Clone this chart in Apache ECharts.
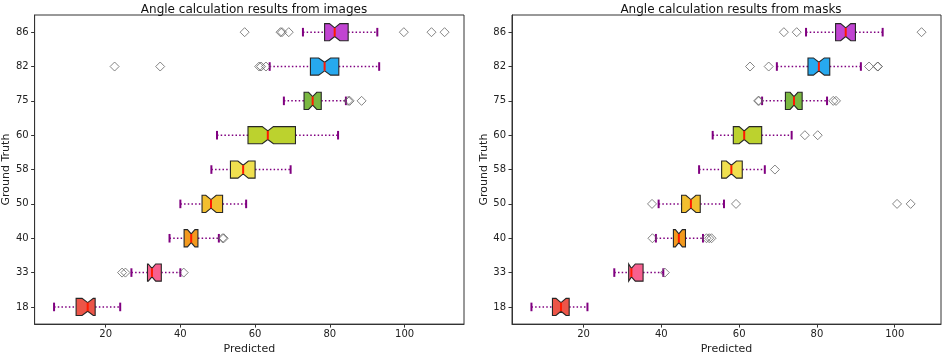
<!DOCTYPE html>
<html>
<head>
<meta charset="utf-8">
<script src="https://cdn.jsdelivr.net/npm/echarts@6/dist/echarts.min.js"></script>
<style>
  html, body { margin: 0; padding: 0; background: #fff; }
  #main { width: 945px; height: 360px; }
</style>
</head>
<body>
<div id="main"></div>
<script>
// ground truth classes, bottom to top
var categories = ['18', '33', '40', '50', '58', '60', '75', '82', '86'];
var boxColors = ['#ec5548', '#f7608f', '#f39a1e', '#f2bf2f', '#f0e04f', '#bcd22e', '#7ab840', '#27a9ef', '#c144d2'];
var xTicks = [20, 40, 60, 80, 100];

// left panel: from images
var imgLow   = [6.2, 26.9, 37.1, 40.0, 48.3, 49.8, 67.7, 63.9, 72.8];
var imgQ1    = [12.1, 31.2, 41.0, 45.8, 53.4, 58.1, 73.1, 74.8, 78.6];
var imgMed   = [15.2, 32.4, 42.9, 48.2, 56.8, 63.4, 75.4, 78.6, 81.3];
var imgQ3    = [17.2, 34.9, 44.7, 51.3, 60.0, 70.8, 77.7, 82.4, 84.9];
var imgHigh  = [23.9, 40.0, 50.3, 57.6, 69.5, 82.2, 84.3, 93.2, 92.7];
var imgNotch = [1.5, 1.0, 1.0, 1.4, 1.4, 1.5, 1.1, 1.6, 1.4];
var imgOutliers = [
  ['33', 24.4], ['33', 25.3], ['33', 40.9],
  ['40', 51.3], ['40', 51.6],
  ['75', 84.9], ['75', 85.3], ['75', 88.5],
  ['82', 22.4], ['82', 34.6], ['82', 61.1], ['82', 61.6], ['82', 62.9],
  ['86', 57.2], ['86', 66.8], ['86', 67.2], ['86', 69.0], ['86', 99.8], ['86', 107.2], ['86', 110.7]
];

// right panel: from masks
var mskLow   = [6.6, 27.9, 38.6, 39.3, 49.7, 53.2, 65.9, 69.7, 77.2];
var mskQ1    = [12.0, 31.6, 43.1, 45.2, 55.5, 58.5, 71.9, 77.7, 84.8];
var mskMed   = [14.2, 32.3, 44.5, 47.6, 58.0, 61.3, 74.1, 80.5, 87.4];
var mskQ3    = [16.3, 35.3, 46.2, 50.0, 60.8, 65.8, 76.2, 83.3, 89.9];
var mskHigh  = [21.0, 40.5, 50.7, 56.1, 66.6, 73.5, 82.6, 91.3, 96.9];
var mskNotch = [1.3, 1.0, 0.9, 1.3, 1.3, 1.3, 1.0, 1.4, 1.3];
var mskOutliers = [
  ['33', 40.9],
  ['40', 37.7], ['40', 51.6], ['40', 52.3], ['40', 52.9],
  ['50', 37.6], ['50', 59.2], ['50', 100.6], ['50', 104.1],
  ['58', 69.2],
  ['60', 76.9], ['60', 80.2],
  ['75', 64.9], ['75', 65.1], ['75', 84.2], ['75', 84.9],
  ['82', 62.8], ['82', 67.6], ['82', 93.4], ['82', 95.6], ['82', 95.7],
  ['86', 71.5], ['86', 74.8], ['86', 106.9]
];

function boxRows(low, q1, med, q3, high, notch) {
  return categories.map(function (c, i) {
    return [i, low[i], q1[i], med[i], q3[i], high[i], notch[i]];
  });
}

function renderBox(params, api) {
  var i = api.value(0);
  var low = api.value(1), q1 = api.value(2), med = api.value(3),
      q3 = api.value(4), high = api.value(5), n = api.value(6);
  var band = api.size([0, 1])[1];
  var hw = band * 0.25, nw = band * 0.125, cw = band * 0.125;
  var y = api.coord([med, i])[1];
  function px(v) { return api.coord([v, i])[0]; }
  var ciLo = Math.max(q1, med - n), ciHi = Math.min(q3, med + n);
  var purple = '#800080';
  var pts = [
    [px(q1), y - hw], [px(ciLo), y - hw], [px(med), y - nw], [px(ciHi), y - hw], [px(q3), y - hw],
    [px(q3), y + hw], [px(ciHi), y + hw], [px(med), y + nw], [px(ciLo), y + hw], [px(q1), y + hw]
  ];
  return {
    type: 'group',
    children: [
      { type: 'line', shape: { x1: px(low), y1: y, x2: px(q1), y2: y },
        style: { stroke: purple, lineWidth: 1.5, lineDash: [1.5, 2.2] } },
      { type: 'line', shape: { x1: px(q3), y1: y, x2: px(high), y2: y },
        style: { stroke: purple, lineWidth: 1.5, lineDash: [1.5, 2.2] } },
      { type: 'line', shape: { x1: px(low), y1: y - cw, x2: px(low), y2: y + cw },
        style: { stroke: purple, lineWidth: 2 } },
      { type: 'line', shape: { x1: px(high), y1: y - cw, x2: px(high), y2: y + cw },
        style: { stroke: purple, lineWidth: 2 } },
      { type: 'polygon', shape: { points: pts },
        style: { fill: boxColors[i], stroke: '#262626', lineWidth: 1.1 } },
      { type: 'line', shape: { x1: px(med), y1: y - nw, x2: px(med), y2: y + nw },
        style: { stroke: '#ff1a00', lineWidth: 2 } }
    ]
  };
}

function makeX(idx, min, max) {
  return {
    gridIndex: idx, type: 'value', min: min, max: max,
    name: 'Predicted', nameLocation: 'middle', nameGap: 17,
    nameTextStyle: { fontSize: 11, color: '#222', fontFamily: 'DejaVu Sans' },
    splitLine: { show: false },
    axisLine: { show: true, lineStyle: { color: '#333' } },
    axisTick: { show: true, length: 3.5, customValues: xTicks, lineStyle: { color: '#333' } },
    axisLabel: { customValues: xTicks, fontSize: 10, color: '#222', margin: 5, fontFamily: 'DejaVu Sans' }
  };
}

function makeY(idx) {
  return {
    gridIndex: idx, type: 'category', data: categories,
    name: 'Ground Truth', nameLocation: 'middle', nameGap: 22,
    nameTextStyle: { fontSize: 11, color: '#222', fontFamily: 'DejaVu Sans' },
    axisLine: { show: true, lineStyle: { color: '#333' } },
    axisTick: { show: true, alignWithLabel: true, length: 3.5, lineStyle: { color: '#333' } },
    axisLabel: { fontSize: 10, color: '#222', margin: 6, fontFamily: 'DejaVu Sans' }
  };
}

function outlierSeries(idx, list) {
  return {
    type: 'scatter', xAxisIndex: idx, yAxisIndex: idx, z: 3,
    symbol: 'diamond', symbolSize: 9,
    itemStyle: { color: 'rgba(255,255,255,0)', borderColor: '#666', borderWidth: 1 },
    data: list.map(function (d) { return [d[1], d[0]]; })
  };
}

var chart = echarts.init(document.getElementById('main'));
chart.setOption({
  backgroundColor: '#fff',
  animation: false,
  title: [
    { text: 'Angle calculation results from images', left: 249, top: -1, textAlign: 'center',
      textStyle: { fontSize: 12, fontWeight: 'normal', color: '#111', fontFamily: 'DejaVu Sans' } },
    { text: 'Angle calculation results from masks', left: 726, top: -1, textAlign: 'center',
      textStyle: { fontSize: 12, fontWeight: 'normal', color: '#111', fontFamily: 'DejaVu Sans' } }
  ],
  grid: [
    { left: 34, right: 481, top: 15, bottom: 30, show: true, borderColor: '#333', borderWidth: 1 },
    { left: 512, right: 4, top: 15, bottom: 30, show: true, borderColor: '#333', borderWidth: 1 }
  ],
  xAxis: [makeX(0, 1.0, 115.9), makeX(1, 1.6, 111.9)],
  yAxis: [makeY(0), makeY(1)],
  series: [
    { type: 'custom', xAxisIndex: 0, yAxisIndex: 0, renderItem: renderBox,
      encode: { x: [1, 2, 3, 4, 5], y: 0 },
      data: boxRows(imgLow, imgQ1, imgMed, imgQ3, imgHigh, imgNotch) },
    { type: 'custom', xAxisIndex: 1, yAxisIndex: 1, renderItem: renderBox,
      encode: { x: [1, 2, 3, 4, 5], y: 0 },
      data: boxRows(mskLow, mskQ1, mskMed, mskQ3, mskHigh, mskNotch) },
    outlierSeries(0, imgOutliers),
    outlierSeries(1, mskOutliers)
  ]
});
</script>
</body>
</html>
